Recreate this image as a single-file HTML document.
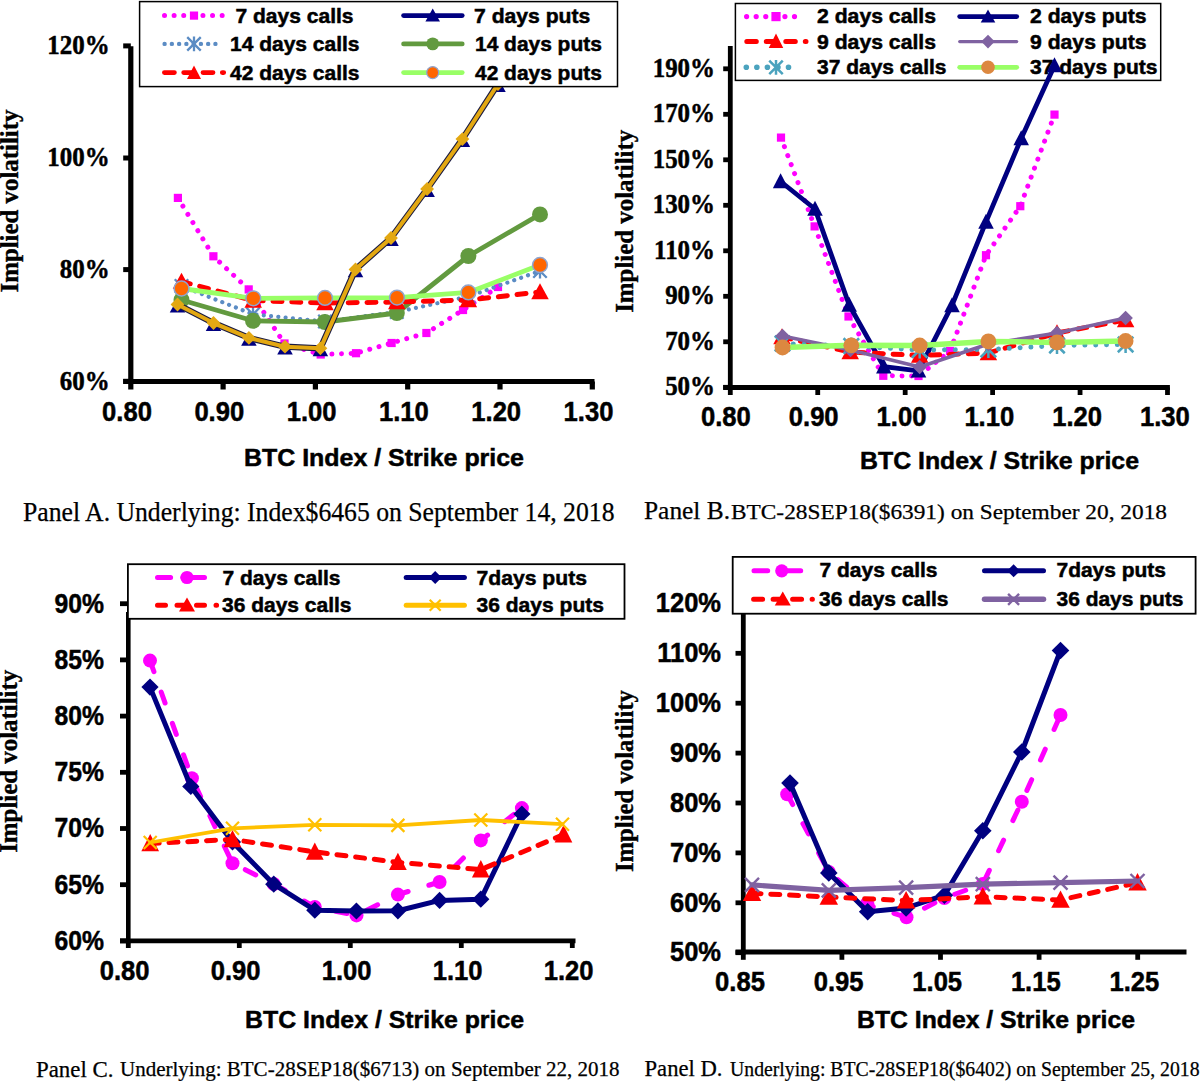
<!DOCTYPE html>
<html><head><meta charset="utf-8"><title>Implied volatility panels</title>
<style>html,body{margin:0;padding:0;background:#fff;width:1200px;height:1081px;overflow:hidden}
svg{display:block}</style></head><body>
<svg width="1200" height="1081" viewBox="0 0 1200 1081">
<rect x="0" y="0" width="1200" height="1081" fill="#fff"/>
<line x1="130.8" y1="46.3" x2="130.8" y2="384" stroke="#000" stroke-width="5.2" stroke-linecap="butt"/>
<line x1="123.2" y1="45.9" x2="130.8" y2="45.9" stroke="#000" stroke-width="5" stroke-linecap="butt"/>
<text x="109.6" y="54.2" font-family='"Liberation Serif", serif' font-size="26.8" font-weight="bold" text-anchor="end" fill="#000" textLength="62.31" lengthAdjust="spacingAndGlyphs" stroke="#000" stroke-width="0.5">120%</text>
<line x1="123.2" y1="158" x2="130.8" y2="158" stroke="#000" stroke-width="5" stroke-linecap="butt"/>
<text x="109.6" y="166.3" font-family='"Liberation Serif", serif' font-size="26.8" font-weight="bold" text-anchor="end" fill="#000" textLength="62.31" lengthAdjust="spacingAndGlyphs" stroke="#000" stroke-width="0.5">100%</text>
<line x1="123.2" y1="269.6" x2="130.8" y2="269.6" stroke="#000" stroke-width="5" stroke-linecap="butt"/>
<text x="109.6" y="277.9" font-family='"Liberation Serif", serif' font-size="26.8" font-weight="bold" text-anchor="end" fill="#000" textLength="49.85" lengthAdjust="spacingAndGlyphs" stroke="#000" stroke-width="0.5">80%</text>
<line x1="123.2" y1="381.3" x2="130.8" y2="381.3" stroke="#000" stroke-width="5" stroke-linecap="butt"/>
<text x="109.6" y="389.6" font-family='"Liberation Serif", serif' font-size="26.8" font-weight="bold" text-anchor="end" fill="#000" textLength="49.85" lengthAdjust="spacingAndGlyphs" stroke="#000" stroke-width="0.5">60%</text>
<line x1="123.2" y1="381.5" x2="594.5" y2="381.5" stroke="#000" stroke-width="5.2" stroke-linecap="butt"/>
<line x1="130.8" y1="381.5" x2="130.8" y2="389.5" stroke="#000" stroke-width="5.2" stroke-linecap="butt"/>
<text x="127" y="421.3" font-family='"Liberation Sans", sans-serif' font-size="27" font-weight="bold" text-anchor="middle" fill="#000" textLength="49.83" lengthAdjust="spacingAndGlyphs" stroke="#000" stroke-width="0.5">0.80</text>
<line x1="223.1" y1="381.5" x2="223.1" y2="389.5" stroke="#000" stroke-width="5.2" stroke-linecap="butt"/>
<text x="219.3" y="421.3" font-family='"Liberation Sans", sans-serif' font-size="27" font-weight="bold" text-anchor="middle" fill="#000" textLength="49.83" lengthAdjust="spacingAndGlyphs" stroke="#000" stroke-width="0.5">0.90</text>
<line x1="315.4" y1="381.5" x2="315.4" y2="389.5" stroke="#000" stroke-width="5.2" stroke-linecap="butt"/>
<text x="311.6" y="421.3" font-family='"Liberation Sans", sans-serif' font-size="27" font-weight="bold" text-anchor="middle" fill="#000" textLength="49.83" lengthAdjust="spacingAndGlyphs" stroke="#000" stroke-width="0.5">1.00</text>
<line x1="407.7" y1="381.5" x2="407.7" y2="389.5" stroke="#000" stroke-width="5.2" stroke-linecap="butt"/>
<text x="403.9" y="421.3" font-family='"Liberation Sans", sans-serif' font-size="27" font-weight="bold" text-anchor="middle" fill="#000" textLength="49.83" lengthAdjust="spacingAndGlyphs" stroke="#000" stroke-width="0.5">1.10</text>
<line x1="500" y1="381.5" x2="500" y2="389.5" stroke="#000" stroke-width="5.2" stroke-linecap="butt"/>
<text x="496.2" y="421.3" font-family='"Liberation Sans", sans-serif' font-size="27" font-weight="bold" text-anchor="middle" fill="#000" textLength="49.83" lengthAdjust="spacingAndGlyphs" stroke="#000" stroke-width="0.5">1.20</text>
<line x1="592.3" y1="381.5" x2="592.3" y2="389.5" stroke="#000" stroke-width="5.2" stroke-linecap="butt"/>
<text x="588.5" y="421.3" font-family='"Liberation Sans", sans-serif' font-size="27" font-weight="bold" text-anchor="middle" fill="#000" textLength="49.83" lengthAdjust="spacingAndGlyphs" stroke="#000" stroke-width="0.5">1.30</text>
<text x="384" y="466" font-family='"Liberation Sans", sans-serif' font-size="24.7" font-weight="bold" text-anchor="middle" fill="#000" textLength="280" lengthAdjust="spacingAndGlyphs" stroke="#000" stroke-width="0.5">BTC Index / Strike price</text>
<text transform="translate(17.6 201) rotate(-90)" x="0" y="0" font-family='"Liberation Serif", serif' font-size="25" font-weight="bold" text-anchor="middle" textLength="183" lengthAdjust="spacingAndGlyphs" stroke="#000" stroke-width="0.4">Implied volatility</text>
<text x="23" y="520.6" font-family='"Liberation Serif", serif' font-size="26.5" font-weight="normal" text-anchor="start" fill="#000" textLength="591.5" lengthAdjust="spacingAndGlyphs" stroke="#000" stroke-width="0.25">Panel A. Underlying: Index$6465 on September 14, 2018</text>
<path d="M177.9 197.9 L213.4 256.3 L248.7 289.4 L284.5 343.5 L320.7 354.5 L356 353.2 L391.6 343 L426.4 333 L463 310 L498 287" fill="none" stroke="#FF00FF" stroke-width="5" stroke-linecap="round" stroke-linejoin="round" stroke-dasharray="0.01 9.6"/>
<rect x="173.8" y="193.8" width="8.2" height="8.2" fill="#FF00FF" stroke="none" stroke-width="0"/>
<rect x="209.3" y="252.2" width="8.2" height="8.2" fill="#FF00FF" stroke="none" stroke-width="0"/>
<rect x="244.6" y="285.3" width="8.2" height="8.2" fill="#FF00FF" stroke="none" stroke-width="0"/>
<rect x="280.4" y="339.4" width="8.2" height="8.2" fill="#FF00FF" stroke="none" stroke-width="0"/>
<rect x="316.6" y="350.4" width="8.2" height="8.2" fill="#FF00FF" stroke="none" stroke-width="0"/>
<rect x="351.9" y="349.1" width="8.2" height="8.2" fill="#FF00FF" stroke="none" stroke-width="0"/>
<rect x="387.5" y="338.9" width="8.2" height="8.2" fill="#FF00FF" stroke="none" stroke-width="0"/>
<rect x="422.3" y="328.9" width="8.2" height="8.2" fill="#FF00FF" stroke="none" stroke-width="0"/>
<rect x="458.9" y="305.9" width="8.2" height="8.2" fill="#FF00FF" stroke="none" stroke-width="0"/>
<rect x="493.9" y="282.9" width="8.2" height="8.2" fill="#FF00FF" stroke="none" stroke-width="0"/>
<path d="M181.5 286 L253 314.3 L325 321.5 L396.8 312 L468.4 296.5 L540 271" fill="none" stroke="#5B8CC4" stroke-width="4.2" stroke-linecap="round" stroke-linejoin="round" stroke-dasharray="0.01 7.3"/>
<path d="M174.75 279.25 L188.25 292.75 M174.75 292.75 L188.25 279.25 M181.5 278.57 L181.5 293.43" stroke="#5B8CC4" stroke-width="2.3" fill="none"/>
<path d="M246.25 307.55 L259.75 321.05 M246.25 321.05 L259.75 307.55 M253 306.88 L253 321.73" stroke="#5B8CC4" stroke-width="2.3" fill="none"/>
<path d="M318.25 314.75 L331.75 328.25 M318.25 328.25 L331.75 314.75 M325 314.07 L325 328.93" stroke="#5B8CC4" stroke-width="2.3" fill="none"/>
<path d="M390.05 305.25 L403.55 318.75 M390.05 318.75 L403.55 305.25 M396.8 304.57 L396.8 319.43" stroke="#5B8CC4" stroke-width="2.3" fill="none"/>
<path d="M461.65 289.75 L475.15 303.25 M461.65 303.25 L475.15 289.75 M468.4 289.07 L468.4 303.93" stroke="#5B8CC4" stroke-width="2.3" fill="none"/>
<path d="M533.25 264.25 L546.75 277.75 M533.25 277.75 L546.75 264.25 M540 263.57 L540 278.43" stroke="#5B8CC4" stroke-width="2.3" fill="none"/>
<path d="M181.5 300 L253 320.8 L324.8 322 L396.8 313 L468.4 256 L540 214.4" fill="none" stroke="#629A3F" stroke-width="4.8" stroke-linecap="round" stroke-linejoin="round"/>
<circle cx="181.5" cy="300" r="8" fill="#629A3F" stroke="none" stroke-width="0"/>
<circle cx="253" cy="320.8" r="8" fill="#629A3F" stroke="none" stroke-width="0"/>
<circle cx="324.8" cy="322" r="8" fill="#629A3F" stroke="none" stroke-width="0"/>
<circle cx="396.8" cy="313" r="8" fill="#629A3F" stroke="none" stroke-width="0"/>
<circle cx="468.4" cy="256" r="8" fill="#629A3F" stroke="none" stroke-width="0"/>
<circle cx="540" cy="214.4" r="8" fill="#629A3F" stroke="none" stroke-width="0"/>
<path d="M181.5 281.5 L253.2 300.5 L325 303 L396.8 302 L468.4 300 L540 292" fill="none" stroke="#FF0000" stroke-width="5" stroke-linecap="round" stroke-linejoin="round" stroke-dasharray="9 9.8"/>
<path d="M181.5 272.7 L190.25 288.7 L172.75 288.7 Z" fill="#FF0000"/>
<path d="M253.2 291.7 L261.95 307.7 L244.45 307.7 Z" fill="#FF0000"/>
<path d="M325 294.2 L333.75 310.2 L316.25 310.2 Z" fill="#FF0000"/>
<path d="M396.8 293.2 L405.55 309.2 L388.05 309.2 Z" fill="#FF0000"/>
<path d="M468.4 291.2 L477.15 307.2 L459.65 307.2 Z" fill="#FF0000"/>
<path d="M540 283.2 L548.75 299.2 L531.25 299.2 Z" fill="#FF0000"/>
<path d="M181.5 288.5 L253.3 298.3 L325 297.9 L397 297.6 L468.4 292.4 L540 265" fill="none" stroke="#99FF66" stroke-width="4.8" stroke-linecap="round" stroke-linejoin="round"/>
<circle cx="181.5" cy="288.5" r="7.4" fill="#FF6600" stroke="#8FA4CF" stroke-width="1.5"/>
<circle cx="253.3" cy="298.3" r="7.4" fill="#FF6600" stroke="#8FA4CF" stroke-width="1.5"/>
<circle cx="325" cy="297.9" r="7.4" fill="#FF6600" stroke="#8FA4CF" stroke-width="1.5"/>
<circle cx="397" cy="297.6" r="7.4" fill="#FF6600" stroke="#8FA4CF" stroke-width="1.5"/>
<circle cx="468.4" cy="292.4" r="7.4" fill="#FF6600" stroke="#8FA4CF" stroke-width="1.5"/>
<circle cx="540" cy="265" r="7.4" fill="#FF6600" stroke="#8FA4CF" stroke-width="1.5"/>
<path d="M177.5 298.4 L185.25 312.4 L169.75 312.4 Z" fill="#000080"/>
<path d="M213.5 316.9 L221.25 330.9 L205.75 330.9 Z" fill="#000080"/>
<path d="M248.9 331.8 L256.65 345.8 L241.15 345.8 Z" fill="#000080"/>
<path d="M285 340.6 L292.75 354.6 L277.25 354.6 Z" fill="#000080"/>
<path d="M320.4 342.2 L328.15 356.2 L312.65 356.2 Z" fill="#000080"/>
<path d="M355.5 263.3 L363.25 277.3 L347.75 277.3 Z" fill="#000080"/>
<path d="M391 231.9 L398.75 245.9 L383.25 245.9 Z" fill="#000080"/>
<path d="M427.1 182.9 L434.85 196.9 L419.35 196.9 Z" fill="#000080"/>
<path d="M462.4 133 L470.15 147 L454.65 147 Z" fill="#000080"/>
<path d="M498 77.9 L505.75 91.9 L490.25 91.9 Z" fill="#000080"/>
<path d="M177.5 304.5 L213.5 323 L248.9 337.9 L285 346.7 L320.4 348.3 L355.5 269.4 L391 238 L427.1 189 L462.4 139.1 L498 84" fill="none" stroke="#1A1A40" stroke-width="6.3" stroke-linecap="round" stroke-linejoin="round"/>
<path d="M177.5 304.5 L213.5 323 L248.9 337.9 L285 346.7 L320.4 348.3 L355.5 269.4 L391 238 L427.1 189 L462.4 139.1 L498 84" fill="none" stroke="#E3A812" stroke-width="4.1" stroke-linecap="round" stroke-linejoin="round"/>
<path d="M177.5 297.6 L184.4 304.5 L177.5 311.4 L170.6 304.5 Z" fill="#E3A812"/>
<path d="M213.5 316.1 L220.4 323 L213.5 329.9 L206.6 323 Z" fill="#E3A812"/>
<path d="M248.9 331 L255.8 337.9 L248.9 344.8 L242 337.9 Z" fill="#E3A812"/>
<path d="M285 339.8 L291.9 346.7 L285 353.6 L278.1 346.7 Z" fill="#E3A812"/>
<path d="M320.4 341.4 L327.3 348.3 L320.4 355.2 L313.5 348.3 Z" fill="#E3A812"/>
<path d="M355.5 262.5 L362.4 269.4 L355.5 276.3 L348.6 269.4 Z" fill="#E3A812"/>
<path d="M391 231.1 L397.9 238 L391 244.9 L384.1 238 Z" fill="#E3A812"/>
<path d="M427.1 182.1 L434 189 L427.1 195.9 L420.2 189 Z" fill="#E3A812"/>
<path d="M462.4 132.2 L469.3 139.1 L462.4 146 L455.5 139.1 Z" fill="#E3A812"/>
<path d="M498 77.1 L504.9 84 L498 90.9 L491.1 84 Z" fill="#E3A812"/>
<rect x="139.6" y="1.6" width="477.9" height="85" fill="#fff" stroke="#000" stroke-width="1.5"/>
<path d="M164.5 15.6 L223 15.6" fill="none" stroke="#FF00FF" stroke-width="5" stroke-linecap="round" stroke-linejoin="round" stroke-dasharray="0.01 9.6"/>
<rect x="189.9" y="11.5" width="8.2" height="8.2" fill="#FF00FF" stroke="none" stroke-width="0"/>
<path d="M164.6 43.9 L222.6 43.9" fill="none" stroke="#5B8CC4" stroke-width="4.4" stroke-linecap="round" stroke-linejoin="round" stroke-dasharray="0.01 7.25"/>
<path d="M187.25 37.15 L200.75 50.65 M187.25 50.65 L200.75 37.15 M194 36.47 L194 51.33" stroke="#5B8CC4" stroke-width="2.3" fill="none"/>
<path d="M164.4 72.6 L223.7 72.6" fill="none" stroke="#FF0000" stroke-width="4.8" stroke-linecap="round" stroke-linejoin="round" stroke-dasharray="10 9.3"/>
<path d="M194 65.47 L201 78.97 L187 78.97 Z" fill="#FF0000"/>
<path d="M403.6 15.6 L462.2 15.6" fill="none" stroke="#000080" stroke-width="4.8" stroke-linecap="round" stroke-linejoin="round"/>
<path d="M432.7 8.45 L440 21.45 L425.4 21.45 Z" fill="#000080"/>
<path d="M403.6 43.9 L462.2 43.9" fill="none" stroke="#629A3F" stroke-width="4.8" stroke-linecap="round" stroke-linejoin="round"/>
<circle cx="432.7" cy="43.9" r="6.4" fill="#629A3F" stroke="none" stroke-width="0"/>
<path d="M403.6 72.6 L462.2 72.6" fill="none" stroke="#99FF66" stroke-width="4.8" stroke-linecap="round" stroke-linejoin="round"/>
<circle cx="432.7" cy="72.6" r="6" fill="#FF6600" stroke="#8FA4CF" stroke-width="1.3"/>
<text x="235.5" y="22.8" font-family='"Liberation Sans", sans-serif' font-size="20.8" font-weight="bold" text-anchor="start" fill="#000" textLength="118" lengthAdjust="spacingAndGlyphs" stroke="#000" stroke-width="0.5">7 days calls</text>
<text x="230" y="51.3" font-family='"Liberation Sans", sans-serif' font-size="20.8" font-weight="bold" text-anchor="start" fill="#000" textLength="129.5" lengthAdjust="spacingAndGlyphs" stroke="#000" stroke-width="0.5">14 days calls</text>
<text x="230" y="79.8" font-family='"Liberation Sans", sans-serif' font-size="20.8" font-weight="bold" text-anchor="start" fill="#000" textLength="129.5" lengthAdjust="spacingAndGlyphs" stroke="#000" stroke-width="0.5">42 days calls</text>
<text x="474" y="22.8" font-family='"Liberation Sans", sans-serif' font-size="20.8" font-weight="bold" text-anchor="start" fill="#000" textLength="116.3" lengthAdjust="spacingAndGlyphs" stroke="#000" stroke-width="0.5">7 days puts</text>
<text x="475" y="51.3" font-family='"Liberation Sans", sans-serif' font-size="20.8" font-weight="bold" text-anchor="start" fill="#000" textLength="126.8" lengthAdjust="spacingAndGlyphs" stroke="#000" stroke-width="0.5">14 days puts</text>
<text x="475" y="79.8" font-family='"Liberation Sans", sans-serif' font-size="20.8" font-weight="bold" text-anchor="start" fill="#000" textLength="126.8" lengthAdjust="spacingAndGlyphs" stroke="#000" stroke-width="0.5">42 days puts</text>
<line x1="730.3" y1="46" x2="730.3" y2="390" stroke="#000" stroke-width="4.8" stroke-linecap="butt"/>
<line x1="723.2" y1="68.8" x2="730.3" y2="68.8" stroke="#000" stroke-width="4.8" stroke-linecap="butt"/>
<text x="715" y="76.8" font-family='"Liberation Serif", serif' font-size="26.8" font-weight="bold" text-anchor="end" fill="#000" textLength="62.31" lengthAdjust="spacingAndGlyphs" stroke="#000" stroke-width="0.5">190%</text>
<line x1="723.2" y1="114.3" x2="730.3" y2="114.3" stroke="#000" stroke-width="4.8" stroke-linecap="butt"/>
<text x="715" y="122.3" font-family='"Liberation Serif", serif' font-size="26.8" font-weight="bold" text-anchor="end" fill="#000" textLength="62.31" lengthAdjust="spacingAndGlyphs" stroke="#000" stroke-width="0.5">170%</text>
<line x1="723.2" y1="159.8" x2="730.3" y2="159.8" stroke="#000" stroke-width="4.8" stroke-linecap="butt"/>
<text x="715" y="167.8" font-family='"Liberation Serif", serif' font-size="26.8" font-weight="bold" text-anchor="end" fill="#000" textLength="62.31" lengthAdjust="spacingAndGlyphs" stroke="#000" stroke-width="0.5">150%</text>
<line x1="723.2" y1="205.3" x2="730.3" y2="205.3" stroke="#000" stroke-width="4.8" stroke-linecap="butt"/>
<text x="715" y="213.3" font-family='"Liberation Serif", serif' font-size="26.8" font-weight="bold" text-anchor="end" fill="#000" textLength="62.31" lengthAdjust="spacingAndGlyphs" stroke="#000" stroke-width="0.5">130%</text>
<line x1="723.2" y1="250.8" x2="730.3" y2="250.8" stroke="#000" stroke-width="4.8" stroke-linecap="butt"/>
<text x="715" y="258.8" font-family='"Liberation Serif", serif' font-size="26.8" font-weight="bold" text-anchor="end" fill="#000" textLength="60.93" lengthAdjust="spacingAndGlyphs" stroke="#000" stroke-width="0.5">110%</text>
<line x1="723.2" y1="296.3" x2="730.3" y2="296.3" stroke="#000" stroke-width="4.8" stroke-linecap="butt"/>
<text x="715" y="304.3" font-family='"Liberation Serif", serif' font-size="26.8" font-weight="bold" text-anchor="end" fill="#000" textLength="49.85" lengthAdjust="spacingAndGlyphs" stroke="#000" stroke-width="0.5">90%</text>
<line x1="723.2" y1="341.8" x2="730.3" y2="341.8" stroke="#000" stroke-width="4.8" stroke-linecap="butt"/>
<text x="715" y="349.8" font-family='"Liberation Serif", serif' font-size="26.8" font-weight="bold" text-anchor="end" fill="#000" textLength="49.85" lengthAdjust="spacingAndGlyphs" stroke="#000" stroke-width="0.5">70%</text>
<line x1="723.2" y1="387.3" x2="730.3" y2="387.3" stroke="#000" stroke-width="4.8" stroke-linecap="butt"/>
<text x="715" y="395.3" font-family='"Liberation Serif", serif' font-size="26.8" font-weight="bold" text-anchor="end" fill="#000" textLength="49.85" lengthAdjust="spacingAndGlyphs" stroke="#000" stroke-width="0.5">50%</text>
<line x1="723.2" y1="387.5" x2="1169.9" y2="387.5" stroke="#000" stroke-width="4.8" stroke-linecap="butt"/>
<line x1="730.3" y1="387.5" x2="730.3" y2="395" stroke="#000" stroke-width="4.8" stroke-linecap="butt"/>
<text x="725.9" y="425.5" font-family='"Liberation Sans", sans-serif' font-size="27" font-weight="bold" text-anchor="middle" fill="#000" textLength="49.83" lengthAdjust="spacingAndGlyphs" stroke="#000" stroke-width="0.5">0.80</text>
<line x1="817.74" y1="387.5" x2="817.74" y2="395" stroke="#000" stroke-width="4.8" stroke-linecap="butt"/>
<text x="813.7" y="425.5" font-family='"Liberation Sans", sans-serif' font-size="27" font-weight="bold" text-anchor="middle" fill="#000" textLength="49.83" lengthAdjust="spacingAndGlyphs" stroke="#000" stroke-width="0.5">0.90</text>
<line x1="905.18" y1="387.5" x2="905.18" y2="395" stroke="#000" stroke-width="4.8" stroke-linecap="butt"/>
<text x="901.5" y="425.5" font-family='"Liberation Sans", sans-serif' font-size="27" font-weight="bold" text-anchor="middle" fill="#000" textLength="49.83" lengthAdjust="spacingAndGlyphs" stroke="#000" stroke-width="0.5">1.00</text>
<line x1="992.62" y1="387.5" x2="992.62" y2="395" stroke="#000" stroke-width="4.8" stroke-linecap="butt"/>
<text x="989.3" y="425.5" font-family='"Liberation Sans", sans-serif' font-size="27" font-weight="bold" text-anchor="middle" fill="#000" textLength="49.83" lengthAdjust="spacingAndGlyphs" stroke="#000" stroke-width="0.5">1.10</text>
<line x1="1080.06" y1="387.5" x2="1080.06" y2="395" stroke="#000" stroke-width="4.8" stroke-linecap="butt"/>
<text x="1077.1" y="425.5" font-family='"Liberation Sans", sans-serif' font-size="27" font-weight="bold" text-anchor="middle" fill="#000" textLength="49.83" lengthAdjust="spacingAndGlyphs" stroke="#000" stroke-width="0.5">1.20</text>
<line x1="1167.5" y1="387.5" x2="1167.5" y2="395" stroke="#000" stroke-width="4.8" stroke-linecap="butt"/>
<text x="1164.9" y="425.5" font-family='"Liberation Sans", sans-serif' font-size="27" font-weight="bold" text-anchor="middle" fill="#000" textLength="49.83" lengthAdjust="spacingAndGlyphs" stroke="#000" stroke-width="0.5">1.30</text>
<text x="999.5" y="469" font-family='"Liberation Sans", sans-serif' font-size="24.7" font-weight="bold" text-anchor="middle" fill="#000" textLength="279" lengthAdjust="spacingAndGlyphs" stroke="#000" stroke-width="0.5">BTC Index / Strike price</text>
<text transform="translate(633 221.3) rotate(-90)" x="0" y="0" font-family='"Liberation Serif", serif' font-size="25" font-weight="bold" text-anchor="middle" textLength="183" lengthAdjust="spacingAndGlyphs" stroke="#000" stroke-width="0.4">Implied volatility</text>
<text x="644" y="518.6" font-family='"Liberation Serif", serif' font-size="24.5" font-weight="normal" text-anchor="start" fill="#000" textLength="86" lengthAdjust="spacingAndGlyphs" stroke="#000" stroke-width="0.25">Panel B.</text>
<text x="731" y="518.6" font-family='"Liberation Serif", serif' font-size="21.5" font-weight="normal" text-anchor="start" fill="#000" textLength="436" lengthAdjust="spacingAndGlyphs" stroke="#000" stroke-width="0.25">BTC-28SEP18($6391) on September 20, 2018</text>
<rect x="735.4" y="3.5" width="425.3" height="76.9" fill="#fff" stroke="#000" stroke-width="1.5"/>
<path d="M746.6 16.6 L804 16.6" fill="none" stroke="#FF00FF" stroke-width="5.2" stroke-linecap="round" stroke-linejoin="round" stroke-dasharray="0.01 9.57"/>
<rect x="771.4" y="12" width="9.2" height="9.2" fill="#FF00FF" stroke="none" stroke-width="0"/>
<path d="M746.8 41.6 L806 41.6" fill="none" stroke="#FF0000" stroke-width="5" stroke-linecap="round" stroke-linejoin="round" stroke-dasharray="9.5 10"/>
<path d="M776 33.62 L783.25 48.12 L768.75 48.12 Z" fill="#FF0000"/>
<path d="M746.3 67.3 L799 67.3" fill="none" stroke="#4BA3BE" stroke-width="5.6" stroke-linecap="round" stroke-linejoin="round" stroke-dasharray="0.01 10.54"/>
<path d="M769.25 60.55 L782.75 74.05 M769.25 74.05 L782.75 60.55 M776 59.88 L776 74.72" stroke="#4BA3BE" stroke-width="2.5" fill="none"/>
<path d="M959.7 16.6 L1016.7 16.6" fill="none" stroke="#000080" stroke-width="4.8" stroke-linecap="round" stroke-linejoin="round"/>
<path d="M988 9.45 L995.3 22.45 L980.7 22.45 Z" fill="#000080"/>
<path d="M959.7 41.6 L1016.7 41.6" fill="none" stroke="#7F62A1" stroke-width="3.2" stroke-linecap="round" stroke-linejoin="round"/>
<path d="M988 34.8 L994.8 41.6 L988 48.4 L981.2 41.6 Z" fill="#7F62A1"/>
<path d="M959.7 67.3 L1016.7 67.3" fill="none" stroke="#99FF66" stroke-width="4.8" stroke-linecap="round" stroke-linejoin="round"/>
<circle cx="988" cy="67.3" r="6.8" fill="#DC8840" stroke="none" stroke-width="0"/>
<text x="817" y="23.2" font-family='"Liberation Sans", sans-serif' font-size="20.8" font-weight="bold" text-anchor="start" fill="#000" textLength="119" lengthAdjust="spacingAndGlyphs" stroke="#000" stroke-width="0.5">2 days calls</text>
<text x="817" y="48.6" font-family='"Liberation Sans", sans-serif' font-size="20.8" font-weight="bold" text-anchor="start" fill="#000" textLength="119" lengthAdjust="spacingAndGlyphs" stroke="#000" stroke-width="0.5">9 days calls</text>
<text x="817" y="74" font-family='"Liberation Sans", sans-serif' font-size="20.8" font-weight="bold" text-anchor="start" fill="#000" textLength="129.5" lengthAdjust="spacingAndGlyphs" stroke="#000" stroke-width="0.5">37 days calls</text>
<text x="1030" y="23.2" font-family='"Liberation Sans", sans-serif' font-size="20.8" font-weight="bold" text-anchor="start" fill="#000" textLength="116.5" lengthAdjust="spacingAndGlyphs" stroke="#000" stroke-width="0.5">2 days puts</text>
<text x="1030" y="48.6" font-family='"Liberation Sans", sans-serif' font-size="20.8" font-weight="bold" text-anchor="start" fill="#000" textLength="116.5" lengthAdjust="spacingAndGlyphs" stroke="#000" stroke-width="0.5">9 days puts</text>
<text x="1030" y="74" font-family='"Liberation Sans", sans-serif' font-size="20.8" font-weight="bold" text-anchor="start" fill="#000" textLength="127.5" lengthAdjust="spacingAndGlyphs" stroke="#000" stroke-width="0.5">37 days puts</text>
<path d="M781 137.6 L814.6 226.4 L848.5 316.5 L883.3 375.8 L918.5 376 L950 351 L986 255.2 L1020.3 206.2 L1054.5 114.6" fill="none" stroke="#FF00FF" stroke-width="5" stroke-linecap="round" stroke-linejoin="round" stroke-dasharray="0.01 9.6"/>
<rect x="776.9" y="133.5" width="8.2" height="8.2" fill="#FF00FF" stroke="none" stroke-width="0"/>
<rect x="810.5" y="222.3" width="8.2" height="8.2" fill="#FF00FF" stroke="none" stroke-width="0"/>
<rect x="844.4" y="312.4" width="8.2" height="8.2" fill="#FF00FF" stroke="none" stroke-width="0"/>
<rect x="879.2" y="371.7" width="8.2" height="8.2" fill="#FF00FF" stroke="none" stroke-width="0"/>
<rect x="914.4" y="371.9" width="8.2" height="8.2" fill="#FF00FF" stroke="none" stroke-width="0"/>
<rect x="945.9" y="346.9" width="8.2" height="8.2" fill="#FF00FF" stroke="none" stroke-width="0"/>
<rect x="981.9" y="251.1" width="8.2" height="8.2" fill="#FF00FF" stroke="none" stroke-width="0"/>
<rect x="1016.2" y="202.1" width="8.2" height="8.2" fill="#FF00FF" stroke="none" stroke-width="0"/>
<rect x="1050.4" y="110.5" width="8.2" height="8.2" fill="#FF00FF" stroke="none" stroke-width="0"/>
<path d="M780.6 181.5 L815 209 L849.2 305 L883.8 366.7 L918.5 370.8 L952 305.4 L986 221.9 L1021.2 138.6 L1054.5 65.5" fill="none" stroke="#000080" stroke-width="4.8" stroke-linecap="round" stroke-linejoin="round"/>
<path d="M780.6 173.25 L788.35 188.25 L772.85 188.25 Z" fill="#000080"/>
<path d="M815 200.75 L822.75 215.75 L807.25 215.75 Z" fill="#000080"/>
<path d="M849.2 296.75 L856.95 311.75 L841.45 311.75 Z" fill="#000080"/>
<path d="M883.8 358.45 L891.55 373.45 L876.05 373.45 Z" fill="#000080"/>
<path d="M918.5 362.55 L926.25 377.55 L910.75 377.55 Z" fill="#000080"/>
<path d="M952 297.15 L959.75 312.15 L944.25 312.15 Z" fill="#000080"/>
<path d="M986 213.65 L993.75 228.65 L978.25 228.65 Z" fill="#000080"/>
<path d="M1021.2 130.35 L1028.95 145.35 L1013.45 145.35 Z" fill="#000080"/>
<path d="M1054.5 57.25 L1062.25 72.25 L1046.75 72.25 Z" fill="#000080"/>
<path d="M782 337 L850.2 352 L919.7 355.5 L988.4 353 L1057 333 L1125.6 320" fill="none" stroke="#FF0000" stroke-width="5" stroke-linecap="round" stroke-linejoin="round" stroke-dasharray="9 9.8"/>
<path d="M782 328.2 L790.75 344.2 L773.25 344.2 Z" fill="#FF0000"/>
<path d="M850.2 343.2 L858.95 359.2 L841.45 359.2 Z" fill="#FF0000"/>
<path d="M919.7 346.7 L928.45 362.7 L910.95 362.7 Z" fill="#FF0000"/>
<path d="M988.4 344.2 L997.15 360.2 L979.65 360.2 Z" fill="#FF0000"/>
<path d="M1057 324.2 L1065.75 340.2 L1048.25 340.2 Z" fill="#FF0000"/>
<path d="M1125.6 311.2 L1134.35 327.2 L1116.85 327.2 Z" fill="#FF0000"/>
<path d="M782.5 343.5 L851.3 346 L919.7 350 L988.4 349.5 L1057 345.5 L1125.6 344.5" fill="none" stroke="#4BA3BE" stroke-width="5" stroke-linecap="round" stroke-linejoin="round" stroke-dasharray="0.01 10.8"/>
<path d="M774.75 335.75 L790.25 351.25 M774.75 351.25 L790.25 335.75 M782.5 334.98 L782.5 352.02" stroke="#4BA3BE" stroke-width="2.5" fill="none"/>
<path d="M843.55 338.25 L859.05 353.75 M843.55 353.75 L859.05 338.25 M851.3 337.48 L851.3 354.52" stroke="#4BA3BE" stroke-width="2.5" fill="none"/>
<path d="M911.95 342.25 L927.45 357.75 M911.95 357.75 L927.45 342.25 M919.7 341.48 L919.7 358.52" stroke="#4BA3BE" stroke-width="2.5" fill="none"/>
<path d="M980.65 341.75 L996.15 357.25 M980.65 357.25 L996.15 341.75 M988.4 340.98 L988.4 358.02" stroke="#4BA3BE" stroke-width="2.5" fill="none"/>
<path d="M1049.25 337.75 L1064.75 353.25 M1049.25 353.25 L1064.75 337.75 M1057 336.98 L1057 354.02" stroke="#4BA3BE" stroke-width="2.5" fill="none"/>
<path d="M1117.85 336.75 L1133.35 352.25 M1117.85 352.25 L1133.35 336.75 M1125.6 335.98 L1125.6 353.02" stroke="#4BA3BE" stroke-width="2.5" fill="none"/>
<path d="M782.5 336 L850.5 350 L919.7 367 L988.4 344 L1057 333 L1125.6 318" fill="none" stroke="#7F62A1" stroke-width="3.6" stroke-linecap="round" stroke-linejoin="round"/>
<path d="M782.5 328.7 L789.8 336 L782.5 343.3 L775.2 336 Z" fill="#7F62A1"/>
<path d="M850.5 342.7 L857.8 350 L850.5 357.3 L843.2 350 Z" fill="#7F62A1"/>
<path d="M919.7 359.7 L927 367 L919.7 374.3 L912.4 367 Z" fill="#7F62A1"/>
<path d="M988.4 336.7 L995.7 344 L988.4 351.3 L981.1 344 Z" fill="#7F62A1"/>
<path d="M1057 325.7 L1064.3 333 L1057 340.3 L1049.7 333 Z" fill="#7F62A1"/>
<path d="M1125.6 310.7 L1132.9 318 L1125.6 325.3 L1118.3 318 Z" fill="#7F62A1"/>
<path d="M782.5 347.5 L851.3 345.3 L919.7 345.5 L988.4 341.4 L1057 342.4 L1125.6 341" fill="none" stroke="#99FF66" stroke-width="5.5" stroke-linecap="round" stroke-linejoin="round"/>
<circle cx="782.5" cy="347.5" r="7.9" fill="#DC8840" stroke="none" stroke-width="0"/>
<circle cx="851.3" cy="345.3" r="7.9" fill="#DC8840" stroke="none" stroke-width="0"/>
<circle cx="919.7" cy="345.5" r="7.9" fill="#DC8840" stroke="none" stroke-width="0"/>
<circle cx="988.4" cy="341.4" r="7.9" fill="#DC8840" stroke="none" stroke-width="0"/>
<circle cx="1057" cy="342.4" r="7.9" fill="#DC8840" stroke="none" stroke-width="0"/>
<circle cx="1125.6" cy="341" r="7.9" fill="#DC8840" stroke="none" stroke-width="0"/>
<line x1="128.3" y1="612" x2="128.3" y2="943.3" stroke="#000" stroke-width="4.6" stroke-linecap="butt"/>
<line x1="120" y1="603.7" x2="128.3" y2="603.7" stroke="#000" stroke-width="4.8" stroke-linecap="butt"/>
<text x="104" y="612.6" font-family='"Liberation Sans", sans-serif' font-size="27" font-weight="bold" text-anchor="end" fill="#000" textLength="49.44" lengthAdjust="spacingAndGlyphs" stroke="#000" stroke-width="0.5">90%</text>
<line x1="120" y1="659.9" x2="128.3" y2="659.9" stroke="#000" stroke-width="4.8" stroke-linecap="butt"/>
<text x="104" y="668.8" font-family='"Liberation Sans", sans-serif' font-size="27" font-weight="bold" text-anchor="end" fill="#000" textLength="49.44" lengthAdjust="spacingAndGlyphs" stroke="#000" stroke-width="0.5">85%</text>
<line x1="120" y1="716.1" x2="128.3" y2="716.1" stroke="#000" stroke-width="4.8" stroke-linecap="butt"/>
<text x="104" y="725" font-family='"Liberation Sans", sans-serif' font-size="27" font-weight="bold" text-anchor="end" fill="#000" textLength="49.44" lengthAdjust="spacingAndGlyphs" stroke="#000" stroke-width="0.5">80%</text>
<line x1="120" y1="772.3" x2="128.3" y2="772.3" stroke="#000" stroke-width="4.8" stroke-linecap="butt"/>
<text x="104" y="781.2" font-family='"Liberation Sans", sans-serif' font-size="27" font-weight="bold" text-anchor="end" fill="#000" textLength="49.44" lengthAdjust="spacingAndGlyphs" stroke="#000" stroke-width="0.5">75%</text>
<line x1="120" y1="828.5" x2="128.3" y2="828.5" stroke="#000" stroke-width="4.8" stroke-linecap="butt"/>
<text x="104" y="837.4" font-family='"Liberation Sans", sans-serif' font-size="27" font-weight="bold" text-anchor="end" fill="#000" textLength="49.44" lengthAdjust="spacingAndGlyphs" stroke="#000" stroke-width="0.5">70%</text>
<line x1="120" y1="884.7" x2="128.3" y2="884.7" stroke="#000" stroke-width="4.8" stroke-linecap="butt"/>
<text x="104" y="893.6" font-family='"Liberation Sans", sans-serif' font-size="27" font-weight="bold" text-anchor="end" fill="#000" textLength="49.44" lengthAdjust="spacingAndGlyphs" stroke="#000" stroke-width="0.5">65%</text>
<line x1="120" y1="940.9" x2="128.3" y2="940.9" stroke="#000" stroke-width="4.8" stroke-linecap="butt"/>
<text x="104" y="949.8" font-family='"Liberation Sans", sans-serif' font-size="27" font-weight="bold" text-anchor="end" fill="#000" textLength="49.44" lengthAdjust="spacingAndGlyphs" stroke="#000" stroke-width="0.5">60%</text>
<line x1="120" y1="940.8" x2="575.5" y2="940.8" stroke="#000" stroke-width="4.8" stroke-linecap="butt"/>
<line x1="128.3" y1="940.8" x2="128.3" y2="948" stroke="#000" stroke-width="4.8" stroke-linecap="butt"/>
<text x="124.6" y="979.8" font-family='"Liberation Sans", sans-serif' font-size="27" font-weight="bold" text-anchor="middle" fill="#000" textLength="49.83" lengthAdjust="spacingAndGlyphs" stroke="#000" stroke-width="0.5">0.80</text>
<line x1="239.3" y1="940.8" x2="239.3" y2="948" stroke="#000" stroke-width="4.8" stroke-linecap="butt"/>
<text x="235.6" y="979.8" font-family='"Liberation Sans", sans-serif' font-size="27" font-weight="bold" text-anchor="middle" fill="#000" textLength="49.83" lengthAdjust="spacingAndGlyphs" stroke="#000" stroke-width="0.5">0.90</text>
<line x1="350.3" y1="940.8" x2="350.3" y2="948" stroke="#000" stroke-width="4.8" stroke-linecap="butt"/>
<text x="346.6" y="979.8" font-family='"Liberation Sans", sans-serif' font-size="27" font-weight="bold" text-anchor="middle" fill="#000" textLength="49.83" lengthAdjust="spacingAndGlyphs" stroke="#000" stroke-width="0.5">1.00</text>
<line x1="461.3" y1="940.8" x2="461.3" y2="948" stroke="#000" stroke-width="4.8" stroke-linecap="butt"/>
<text x="457.6" y="979.8" font-family='"Liberation Sans", sans-serif' font-size="27" font-weight="bold" text-anchor="middle" fill="#000" textLength="49.83" lengthAdjust="spacingAndGlyphs" stroke="#000" stroke-width="0.5">1.10</text>
<line x1="572.3" y1="940.8" x2="572.3" y2="948" stroke="#000" stroke-width="4.8" stroke-linecap="butt"/>
<text x="568.6" y="979.8" font-family='"Liberation Sans", sans-serif' font-size="27" font-weight="bold" text-anchor="middle" fill="#000" textLength="49.83" lengthAdjust="spacingAndGlyphs" stroke="#000" stroke-width="0.5">1.20</text>
<text x="384.6" y="1027.5" font-family='"Liberation Sans", sans-serif' font-size="24.7" font-weight="bold" text-anchor="middle" fill="#000" textLength="279" lengthAdjust="spacingAndGlyphs" stroke="#000" stroke-width="0.5">BTC Index / Strike price</text>
<text transform="translate(17 761.3) rotate(-90)" x="0" y="0" font-family='"Liberation Serif", serif' font-size="25" font-weight="bold" text-anchor="middle" textLength="183" lengthAdjust="spacingAndGlyphs" stroke="#000" stroke-width="0.4">Implied volatility</text>
<text x="36" y="1076.6" font-family='"Liberation Serif", serif' font-size="23" font-weight="normal" text-anchor="start" fill="#000" textLength="77.5" lengthAdjust="spacingAndGlyphs" stroke="#000" stroke-width="0.25">Panel C.</text>
<text x="120" y="1076.3" font-family='"Liberation Serif", serif' font-size="20.5" font-weight="normal" text-anchor="start" fill="#000" textLength="499.5" lengthAdjust="spacingAndGlyphs" stroke="#000" stroke-width="0.25">Underlying: BTC-28SEP18($6713) on September 22, 2018</text>
<path d="M150 660.6 L191.9 778.3 L232.5 863.3 L273.75 884 L314.8 907 L356.5 915.4 L397.9 894.6 L439.6 882 L480.8 840.4 L521.9 808.1" fill="none" stroke="#FF00FF" stroke-width="5" stroke-linecap="round" stroke-linejoin="round" stroke-dasharray="11.7 21.65"/>
<circle cx="150" cy="660.6" r="7" fill="#FF00FF" stroke="none" stroke-width="0"/>
<circle cx="191.9" cy="778.3" r="7" fill="#FF00FF" stroke="none" stroke-width="0"/>
<circle cx="232.5" cy="863.3" r="7" fill="#FF00FF" stroke="none" stroke-width="0"/>
<circle cx="273.75" cy="884" r="7" fill="#FF00FF" stroke="none" stroke-width="0"/>
<circle cx="314.8" cy="907" r="7" fill="#FF00FF" stroke="none" stroke-width="0"/>
<circle cx="356.5" cy="915.4" r="7" fill="#FF00FF" stroke="none" stroke-width="0"/>
<circle cx="397.9" cy="894.6" r="7" fill="#FF00FF" stroke="none" stroke-width="0"/>
<circle cx="439.6" cy="882" r="7" fill="#FF00FF" stroke="none" stroke-width="0"/>
<circle cx="480.8" cy="840.4" r="7" fill="#FF00FF" stroke="none" stroke-width="0"/>
<circle cx="521.9" cy="808.1" r="7" fill="#FF00FF" stroke="none" stroke-width="0"/>
<path d="M150 687.1 L190.8 786.5 L232.5 842 L273.75 884.2 L314.8 910.2 L356.4 911 L397.9 910.8 L439.6 900.4 L480.8 899.2 L521.9 814" fill="none" stroke="#000080" stroke-width="5" stroke-linecap="round" stroke-linejoin="round"/>
<path d="M150 678.5 L158.6 687.1 L150 695.7 L141.4 687.1 Z" fill="#000080"/>
<path d="M190.8 777.9 L199.4 786.5 L190.8 795.1 L182.2 786.5 Z" fill="#000080"/>
<path d="M232.5 833.4 L241.1 842 L232.5 850.6 L223.9 842 Z" fill="#000080"/>
<path d="M273.75 875.6 L282.35 884.2 L273.75 892.8 L265.15 884.2 Z" fill="#000080"/>
<path d="M314.8 901.6 L323.4 910.2 L314.8 918.8 L306.2 910.2 Z" fill="#000080"/>
<path d="M356.4 902.4 L365 911 L356.4 919.6 L347.8 911 Z" fill="#000080"/>
<path d="M397.9 902.2 L406.5 910.8 L397.9 919.4 L389.3 910.8 Z" fill="#000080"/>
<path d="M439.6 891.8 L448.2 900.4 L439.6 909 L431 900.4 Z" fill="#000080"/>
<path d="M480.8 890.6 L489.4 899.2 L480.8 907.8 L472.2 899.2 Z" fill="#000080"/>
<path d="M521.9 805.4 L530.5 814 L521.9 822.6 L513.3 814 Z" fill="#000080"/>
<path d="M150.2 843.5 L232.5 839.4 L314.8 851.9 L397.9 862.3 L480.8 869.6 L563.5 834.6" fill="none" stroke="#FF0000" stroke-width="5" stroke-linecap="round" stroke-linejoin="round" stroke-dasharray="9 9.8"/>
<path d="M150.2 833.99 L159.05 851.28 L141.35 851.28 Z" fill="#FF0000"/>
<path d="M232.5 829.88 L241.35 847.18 L223.65 847.18 Z" fill="#FF0000"/>
<path d="M314.8 842.38 L323.65 859.68 L305.95 859.68 Z" fill="#FF0000"/>
<path d="M397.9 852.78 L406.75 870.08 L389.05 870.08 Z" fill="#FF0000"/>
<path d="M480.8 860.09 L489.65 877.38 L471.95 877.38 Z" fill="#FF0000"/>
<path d="M563.5 825.09 L572.35 842.38 L554.65 842.38 Z" fill="#FF0000"/>
<path d="M150.2 842.5 L232.5 828.3 L314.8 824.8 L397.9 825.4 L480.8 820 L562.5 824.2" fill="none" stroke="#FFC000" stroke-width="3.8" stroke-linecap="round" stroke-linejoin="round"/>
<path d="M143.7 836 L156.7 849 M143.7 849 L156.7 836" stroke="#FFC000" stroke-width="2.2" fill="none"/>
<path d="M226 821.8 L239 834.8 M226 834.8 L239 821.8" stroke="#FFC000" stroke-width="2.2" fill="none"/>
<path d="M308.3 818.3 L321.3 831.3 M308.3 831.3 L321.3 818.3" stroke="#FFC000" stroke-width="2.2" fill="none"/>
<path d="M391.4 818.9 L404.4 831.9 M391.4 831.9 L404.4 818.9" stroke="#FFC000" stroke-width="2.2" fill="none"/>
<path d="M474.3 813.5 L487.3 826.5 M474.3 826.5 L487.3 813.5" stroke="#FFC000" stroke-width="2.2" fill="none"/>
<path d="M556 817.7 L569 830.7 M556 830.7 L569 817.7" stroke="#FFC000" stroke-width="2.2" fill="none"/>
<rect x="127.9" y="564.2" width="496.6" height="54.6" fill="#fff" stroke="#000" stroke-width="1.8"/>
<path d="M157.5 577.5 L204.5 577.5" fill="none" stroke="#FF00FF" stroke-width="5" stroke-linecap="round" stroke-linejoin="round" stroke-dasharray="13.1 12.3 40 0"/>
<circle cx="187" cy="577.5" r="6.6" fill="#FF00FF" stroke="none" stroke-width="0"/>
<path d="M157.5 605.2 L216.6 605.2" fill="none" stroke="#FF0000" stroke-width="5" stroke-linecap="round" stroke-linejoin="round" stroke-dasharray="8 11.5"/>
<path d="M187 597.5 L195 611.5 L179 611.5 Z" fill="#FF0000"/>
<path d="M406.2 577.5 L464.4 577.5" fill="none" stroke="#000080" stroke-width="5" stroke-linecap="round" stroke-linejoin="round"/>
<path d="M435.2 571 L441.7 577.5 L435.2 584 L428.7 577.5 Z" fill="#000080"/>
<path d="M406.2 605.2 L464.4 605.2" fill="none" stroke="#FFC000" stroke-width="5" stroke-linecap="round" stroke-linejoin="round"/>
<path d="M429.7 599.7 L440.7 610.7 M429.7 610.7 L440.7 599.7" stroke="#FFC000" stroke-width="2.2" fill="none"/>
<text x="222.5" y="584.5" font-family='"Liberation Sans", sans-serif' font-size="20.8" font-weight="bold" text-anchor="start" fill="#000" textLength="118" lengthAdjust="spacingAndGlyphs" stroke="#000" stroke-width="0.5">7 days calls</text>
<text x="222" y="612.2" font-family='"Liberation Sans", sans-serif' font-size="20.8" font-weight="bold" text-anchor="start" fill="#000" textLength="129.5" lengthAdjust="spacingAndGlyphs" stroke="#000" stroke-width="0.5">36 days calls</text>
<text x="476.5" y="584.5" font-family='"Liberation Sans", sans-serif' font-size="20.8" font-weight="bold" text-anchor="start" fill="#000" textLength="110.5" lengthAdjust="spacingAndGlyphs" stroke="#000" stroke-width="0.5">7days puts</text>
<text x="476.5" y="612.2" font-family='"Liberation Sans", sans-serif' font-size="20.8" font-weight="bold" text-anchor="start" fill="#000" textLength="127.5" lengthAdjust="spacingAndGlyphs" stroke="#000" stroke-width="0.5">36 days puts</text>
<line x1="743.3" y1="612" x2="743.3" y2="954.5" stroke="#000" stroke-width="4.8" stroke-linecap="butt"/>
<line x1="735.5" y1="603.4" x2="743.3" y2="603.4" stroke="#000" stroke-width="4.8" stroke-linecap="butt"/>
<text x="721" y="612.1" font-family='"Liberation Sans", sans-serif' font-size="27" font-weight="bold" text-anchor="end" fill="#000" textLength="65.22" lengthAdjust="spacingAndGlyphs" stroke="#000" stroke-width="0.5">120%</text>
<line x1="735.5" y1="653.3" x2="743.3" y2="653.3" stroke="#000" stroke-width="4.8" stroke-linecap="butt"/>
<text x="721" y="662" font-family='"Liberation Sans", sans-serif' font-size="27" font-weight="bold" text-anchor="end" fill="#000" textLength="63.81" lengthAdjust="spacingAndGlyphs" stroke="#000" stroke-width="0.5">110%</text>
<line x1="735.5" y1="703.2" x2="743.3" y2="703.2" stroke="#000" stroke-width="4.8" stroke-linecap="butt"/>
<text x="721" y="711.9" font-family='"Liberation Sans", sans-serif' font-size="27" font-weight="bold" text-anchor="end" fill="#000" textLength="65.22" lengthAdjust="spacingAndGlyphs" stroke="#000" stroke-width="0.5">100%</text>
<line x1="735.5" y1="753.1" x2="743.3" y2="753.1" stroke="#000" stroke-width="4.8" stroke-linecap="butt"/>
<text x="721" y="761.8" font-family='"Liberation Sans", sans-serif' font-size="27" font-weight="bold" text-anchor="end" fill="#000" textLength="51.04" lengthAdjust="spacingAndGlyphs" stroke="#000" stroke-width="0.5">90%</text>
<line x1="735.5" y1="803" x2="743.3" y2="803" stroke="#000" stroke-width="4.8" stroke-linecap="butt"/>
<text x="721" y="811.7" font-family='"Liberation Sans", sans-serif' font-size="27" font-weight="bold" text-anchor="end" fill="#000" textLength="51.04" lengthAdjust="spacingAndGlyphs" stroke="#000" stroke-width="0.5">80%</text>
<line x1="735.5" y1="852.9" x2="743.3" y2="852.9" stroke="#000" stroke-width="4.8" stroke-linecap="butt"/>
<text x="721" y="861.6" font-family='"Liberation Sans", sans-serif' font-size="27" font-weight="bold" text-anchor="end" fill="#000" textLength="51.04" lengthAdjust="spacingAndGlyphs" stroke="#000" stroke-width="0.5">70%</text>
<line x1="735.5" y1="902.8" x2="743.3" y2="902.8" stroke="#000" stroke-width="4.8" stroke-linecap="butt"/>
<text x="721" y="911.5" font-family='"Liberation Sans", sans-serif' font-size="27" font-weight="bold" text-anchor="end" fill="#000" textLength="51.04" lengthAdjust="spacingAndGlyphs" stroke="#000" stroke-width="0.5">60%</text>
<line x1="735.5" y1="952.7" x2="743.3" y2="952.7" stroke="#000" stroke-width="4.8" stroke-linecap="butt"/>
<text x="721" y="961.4" font-family='"Liberation Sans", sans-serif' font-size="27" font-weight="bold" text-anchor="end" fill="#000" textLength="51.04" lengthAdjust="spacingAndGlyphs" stroke="#000" stroke-width="0.5">50%</text>
<line x1="735.5" y1="952" x2="1186.5" y2="952" stroke="#000" stroke-width="4.8" stroke-linecap="butt"/>
<line x1="743.3" y1="952" x2="743.3" y2="959.8" stroke="#000" stroke-width="4.8" stroke-linecap="butt"/>
<text x="740" y="990.8" font-family='"Liberation Sans", sans-serif' font-size="27" font-weight="bold" text-anchor="middle" fill="#000" textLength="49.83" lengthAdjust="spacingAndGlyphs" stroke="#000" stroke-width="0.5">0.85</text>
<line x1="841.9" y1="952" x2="841.9" y2="959.8" stroke="#000" stroke-width="4.8" stroke-linecap="butt"/>
<text x="838.6" y="990.8" font-family='"Liberation Sans", sans-serif' font-size="27" font-weight="bold" text-anchor="middle" fill="#000" textLength="49.83" lengthAdjust="spacingAndGlyphs" stroke="#000" stroke-width="0.5">0.95</text>
<line x1="940.5" y1="952" x2="940.5" y2="959.8" stroke="#000" stroke-width="4.8" stroke-linecap="butt"/>
<text x="937.2" y="990.8" font-family='"Liberation Sans", sans-serif' font-size="27" font-weight="bold" text-anchor="middle" fill="#000" textLength="49.83" lengthAdjust="spacingAndGlyphs" stroke="#000" stroke-width="0.5">1.05</text>
<line x1="1039.1" y1="952" x2="1039.1" y2="959.8" stroke="#000" stroke-width="4.8" stroke-linecap="butt"/>
<text x="1035.8" y="990.8" font-family='"Liberation Sans", sans-serif' font-size="27" font-weight="bold" text-anchor="middle" fill="#000" textLength="49.83" lengthAdjust="spacingAndGlyphs" stroke="#000" stroke-width="0.5">1.15</text>
<line x1="1137.7" y1="952" x2="1137.7" y2="959.8" stroke="#000" stroke-width="4.8" stroke-linecap="butt"/>
<text x="1134.4" y="990.8" font-family='"Liberation Sans", sans-serif' font-size="27" font-weight="bold" text-anchor="middle" fill="#000" textLength="49.83" lengthAdjust="spacingAndGlyphs" stroke="#000" stroke-width="0.5">1.25</text>
<text x="996" y="1027.5" font-family='"Liberation Sans", sans-serif' font-size="24.7" font-weight="bold" text-anchor="middle" fill="#000" textLength="278" lengthAdjust="spacingAndGlyphs" stroke="#000" stroke-width="0.5">BTC Index / Strike price</text>
<text transform="translate(633.3 781.1) rotate(-90)" x="0" y="0" font-family='"Liberation Serif", serif' font-size="25" font-weight="bold" text-anchor="middle" textLength="182" lengthAdjust="spacingAndGlyphs" stroke="#000" stroke-width="0.4">Implied volatility</text>
<text x="644.5" y="1076.4" font-family='"Liberation Serif", serif' font-size="23" font-weight="normal" text-anchor="start" fill="#000" textLength="78" lengthAdjust="spacingAndGlyphs" stroke="#000" stroke-width="0.25">Panel D.</text>
<text x="730" y="1076.2" font-family='"Liberation Serif", serif' font-size="20.5" font-weight="normal" text-anchor="start" fill="#000" textLength="469.5" lengthAdjust="spacingAndGlyphs" stroke="#000" stroke-width="0.25">Underlying: BTC-28SEP18($6402) on September 25, 2018</text>
<path d="M787.2 794.2 L828.8 872 L867.7 905 L906.5 917.3 L944.4 898 L982.8 884 L1021.8 801.8 L1060.5 715" fill="none" stroke="#FF00FF" stroke-width="5" stroke-linecap="round" stroke-linejoin="round" stroke-dasharray="11.7 21.65"/>
<circle cx="787.2" cy="794.2" r="7" fill="#FF00FF" stroke="none" stroke-width="0"/>
<circle cx="828.8" cy="872" r="7" fill="#FF00FF" stroke="none" stroke-width="0"/>
<circle cx="867.7" cy="905" r="7" fill="#FF00FF" stroke="none" stroke-width="0"/>
<circle cx="906.5" cy="917.3" r="7" fill="#FF00FF" stroke="none" stroke-width="0"/>
<circle cx="944.4" cy="898" r="7" fill="#FF00FF" stroke="none" stroke-width="0"/>
<circle cx="982.8" cy="884" r="7" fill="#FF00FF" stroke="none" stroke-width="0"/>
<circle cx="1021.8" cy="801.8" r="7" fill="#FF00FF" stroke="none" stroke-width="0"/>
<circle cx="1060.5" cy="715" r="7" fill="#FF00FF" stroke="none" stroke-width="0"/>
<path d="M790 783.1 L828.8 872.9 L867.7 911.7 L906.1 908 L944.4 895.2 L982.8 830.7 L1021.8 752 L1060.5 650.5" fill="none" stroke="#000080" stroke-width="5" stroke-linecap="round" stroke-linejoin="round"/>
<path d="M790 774.3 L798.8 783.1 L790 791.9 L781.2 783.1 Z" fill="#000080"/>
<path d="M828.8 864.1 L837.6 872.9 L828.8 881.7 L820 872.9 Z" fill="#000080"/>
<path d="M867.7 902.9 L876.5 911.7 L867.7 920.5 L858.9 911.7 Z" fill="#000080"/>
<path d="M906.1 899.2 L914.9 908 L906.1 916.8 L897.3 908 Z" fill="#000080"/>
<path d="M944.4 886.4 L953.2 895.2 L944.4 904 L935.6 895.2 Z" fill="#000080"/>
<path d="M982.8 821.9 L991.6 830.7 L982.8 839.5 L974 830.7 Z" fill="#000080"/>
<path d="M1021.8 743.2 L1030.6 752 L1021.8 760.8 L1013 752 Z" fill="#000080"/>
<path d="M1060.5 641.7 L1069.3 650.5 L1060.5 659.3 L1051.7 650.5 Z" fill="#000080"/>
<path d="M752 893.2 L828.8 897 L906.1 900.6 L982.8 896.7 L1060.5 900 L1137.5 882.6" fill="none" stroke="#FF0000" stroke-width="5" stroke-linecap="round" stroke-linejoin="round" stroke-dasharray="9 9.8"/>
<path d="M752 883.69 L761.25 900.99 L742.75 900.99 Z" fill="#FF0000"/>
<path d="M828.8 887.49 L838.05 904.78 L819.55 904.78 Z" fill="#FF0000"/>
<path d="M906.1 891.09 L915.35 908.38 L896.85 908.38 Z" fill="#FF0000"/>
<path d="M982.8 887.19 L992.05 904.49 L973.55 904.49 Z" fill="#FF0000"/>
<path d="M1060.5 890.49 L1069.75 907.78 L1051.25 907.78 Z" fill="#FF0000"/>
<path d="M1137.5 873.09 L1146.75 890.38 L1128.25 890.38 Z" fill="#FF0000"/>
<path d="M752 884.9 L828.8 890.4 L906.1 887.7 L982.8 884.2 L1060.5 882.6 L1137.5 881" fill="none" stroke="#7F62A1" stroke-width="5.2" stroke-linecap="round" stroke-linejoin="round"/>
<path d="M745 877.9 L759 891.9 M745 891.9 L759 877.9" stroke="#7F62A1" stroke-width="2.4" fill="none"/>
<path d="M821.8 883.4 L835.8 897.4 M821.8 897.4 L835.8 883.4" stroke="#7F62A1" stroke-width="2.4" fill="none"/>
<path d="M899.1 880.7 L913.1 894.7 M899.1 894.7 L913.1 880.7" stroke="#7F62A1" stroke-width="2.4" fill="none"/>
<path d="M975.8 877.2 L989.8 891.2 M975.8 891.2 L989.8 877.2" stroke="#7F62A1" stroke-width="2.4" fill="none"/>
<path d="M1053.5 875.6 L1067.5 889.6 M1053.5 889.6 L1067.5 875.6" stroke="#7F62A1" stroke-width="2.4" fill="none"/>
<path d="M1130.5 874 L1144.5 888 M1130.5 888 L1144.5 874" stroke="#7F62A1" stroke-width="2.4" fill="none"/>
<rect x="732.7" y="556.9" width="462.9" height="56.8" fill="#fff" stroke="#000" stroke-width="1.8"/>
<path d="M754 570.8 L800.7 570.8" fill="none" stroke="#FF00FF" stroke-width="5" stroke-linecap="round" stroke-linejoin="round" stroke-dasharray="13.7 10.8 40 0"/>
<circle cx="781.75" cy="570.8" r="6.6" fill="#FF00FF" stroke="none" stroke-width="0"/>
<path d="M753.6 599.3 L812.4 599.3" fill="none" stroke="#FF0000" stroke-width="5" stroke-linecap="round" stroke-linejoin="round" stroke-dasharray="9 10.5"/>
<path d="M782.75 591.6 L790.75 605.6 L774.75 605.6 Z" fill="#FF0000"/>
<path d="M984.5 570.8 L1043.5 570.8" fill="none" stroke="#000080" stroke-width="5" stroke-linecap="round" stroke-linejoin="round"/>
<path d="M1013.6 564.3 L1020.1 570.8 L1013.6 577.3 L1007.1 570.8 Z" fill="#000080"/>
<path d="M984.5 599.3 L1043.5 599.3" fill="none" stroke="#7F62A1" stroke-width="5.5" stroke-linecap="round" stroke-linejoin="round"/>
<path d="M1008.1 593.8 L1019.1 604.8 M1008.1 604.8 L1019.1 593.8" stroke="#7F62A1" stroke-width="2.4" fill="none"/>
<text x="819.5" y="577.2" font-family='"Liberation Sans", sans-serif' font-size="20.8" font-weight="bold" text-anchor="start" fill="#000" textLength="118" lengthAdjust="spacingAndGlyphs" stroke="#000" stroke-width="0.5">7 days calls</text>
<text x="819" y="606.2" font-family='"Liberation Sans", sans-serif' font-size="20.8" font-weight="bold" text-anchor="start" fill="#000" textLength="129.5" lengthAdjust="spacingAndGlyphs" stroke="#000" stroke-width="0.5">36 days calls</text>
<text x="1056.5" y="577.2" font-family='"Liberation Sans", sans-serif' font-size="20.8" font-weight="bold" text-anchor="start" fill="#000" textLength="109.5" lengthAdjust="spacingAndGlyphs" stroke="#000" stroke-width="0.5">7days puts</text>
<text x="1056.5" y="606.2" font-family='"Liberation Sans", sans-serif' font-size="20.8" font-weight="bold" text-anchor="start" fill="#000" textLength="127" lengthAdjust="spacingAndGlyphs" stroke="#000" stroke-width="0.5">36 days puts</text>
</svg>
</body></html>
